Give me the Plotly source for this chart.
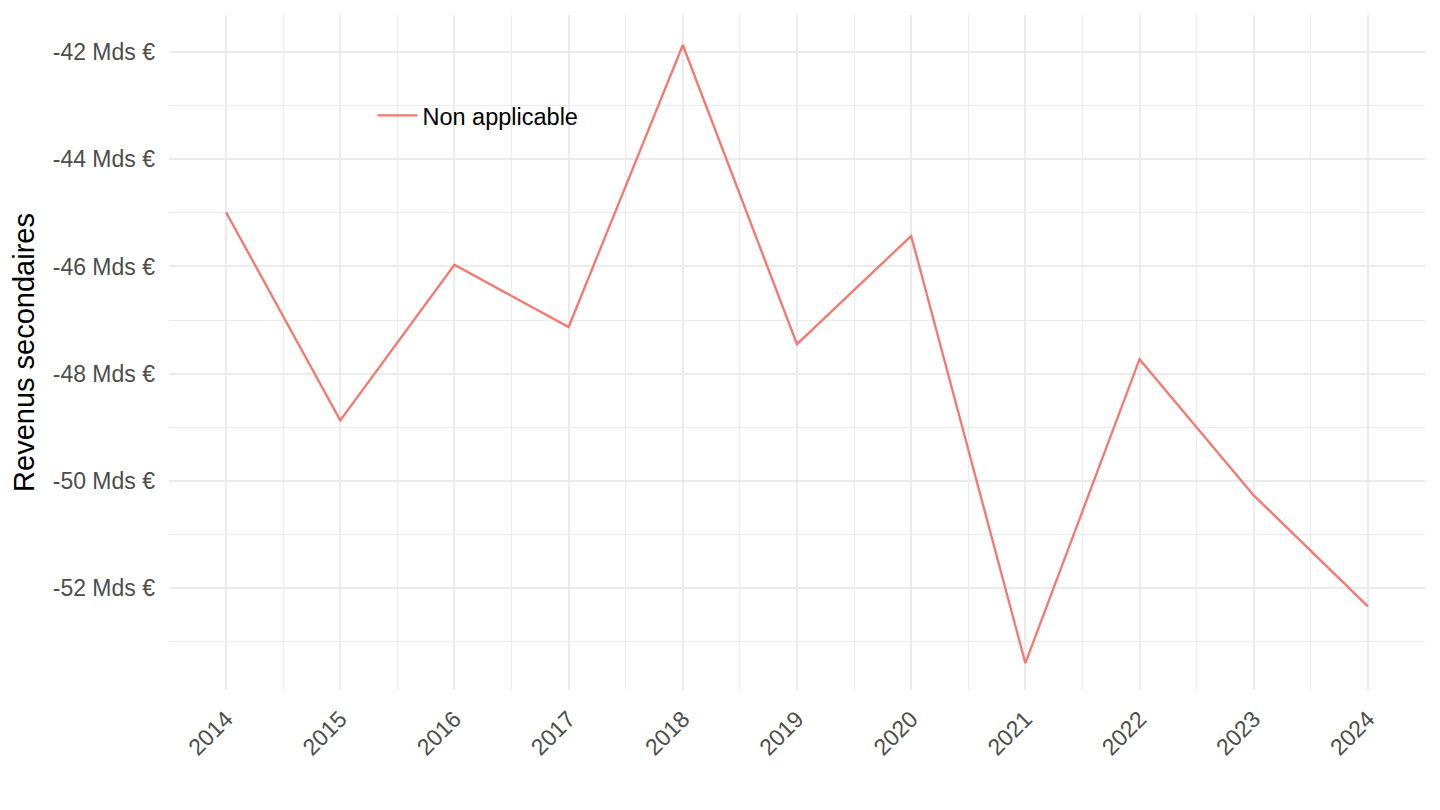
import plotly.graph_objects as go

years = [2014, 2015, 2016, 2017, 2018, 2019, 2020, 2021, 2022, 2023, 2024]
values = [-44.99, -48.87, -45.97, -47.13, -41.87, -47.45, -45.43, -53.40, -47.73, -50.27, -52.34]
series_name = "Non applicable"
y_tick_vals = [-52, -50, -48, -46, -44, -42]
y_tick_text = ["-52 Mds €", "-50 Mds €", "-48 Mds €", "-46 Mds €", "-44 Mds €", "-42 Mds €"]
x_tick_vals = years
x_tick_text = [str(y) for y in years]
y_title = "Revenus secondaires"

FONT = "Liberation Sans, Arial, Helvetica, sans-serif"
GRID = "#EBEBEB"

fig = go.Figure()
fig.add_trace(go.Scatter(
    x=years, y=values, mode="lines", name=series_name,
    line=dict(color="#F8766D", width=2.3), showlegend=True,
))

fig.update_layout(
    width=1440, height=810,
    paper_bgcolor="white", plot_bgcolor="white",
    margin=dict(l=161, r=23, t=7, b=128),
    font=dict(family=FONT, size=23, color="#4D4D4D"),
    showlegend=True,
    legend=dict(
        x=0.162, y=0.851, xanchor="left", yanchor="middle",
        bgcolor="rgba(0,0,0,0)", font=dict(size=23.5, color="#000000", family=FONT),
        itemwidth=40,
    ),
    xaxis=dict(
        range=[2013.5, 2024.5], automargin=False,
        tickmode="array", tickvals=x_tick_vals, ticktext=x_tick_text,
        tickangle=-45, ticks="", showline=False, zeroline=False,
        showgrid=True, gridcolor=GRID, gridwidth=2.4,
        minor=dict(dtick=0.5, tick0=2013.5, showgrid=True, gridcolor=GRID, gridwidth=1.2),
        tickfont=dict(size=23, color="#4D4D4D", family=FONT),
        ticklabelstandoff=10,
    ),
    yaxis=dict(
        range=[-53.90, -41.31], automargin=False,
        tickmode="array", tickvals=y_tick_vals, ticktext=y_tick_text,
        ticks="", showline=False, zeroline=False,
        showgrid=True, gridcolor=GRID, gridwidth=2.4,
        minor=dict(dtick=1, tick0=-53, showgrid=True, gridcolor=GRID, gridwidth=1.2),
        tickfont=dict(size=23, color="#4D4D4D", family=FONT),
        ticklabelstandoff=13,
        title=dict(text=y_title, font=dict(size=29, color="#000000", family=FONT), standoff=11),
    ),
)

fig.write_html("out.html")
